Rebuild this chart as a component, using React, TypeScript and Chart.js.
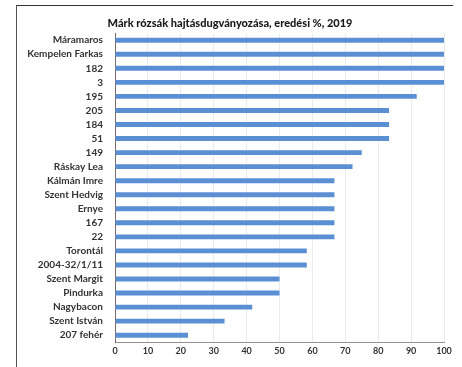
import React, { useEffect, useRef } from "react";
import { Chart, registerables } from "chart.js";

Chart.register(...registerables);

const categories = [
  "Máramaros",
  "Kempelen Farkas",
  "182",
  "3",
  "195",
  "205",
  "184",
  "51",
  "149",
  "Ráskay Lea",
  "Kálmán Imre",
  "Szent Hedvig",
  "Ernye",
  "167",
  "22",
  "Torontál",
  "2004-32/1/11",
  "Szent Margit",
  "Pindurka",
  "Nagybacon",
  "Szent István",
  "207 fehér",
];

const values = [
  100, 100, 100, 100, 91.7, 83.3, 83.3, 83.3, 75, 72.2, 66.7, 66.7, 66.7, 66.7,
  66.7, 58.3, 58.3, 50, 50, 41.7, 33.3, 22.2,
];

const xTicks = [0, 10, 20, 30, 40, 50, 60, 70, 80, 90, 100];

const title = "Márk rózsák hajtásdugványozása, eredési %, 2019";

export default function App() {
  const ref = useRef<HTMLCanvasElement | null>(null);

  useEffect(() => {
    if (!ref.current) return;
    const chart = new Chart(ref.current, {
      type: "bar",
      data: {
        labels: categories,
        datasets: [
          {
            data: values,
            backgroundColor: "#5b8fd3",
            borderWidth: 0,
            barPercentage: 0.7,
            categoryPercentage: 0.5,
          },
        ],
      },
      options: {
        indexAxis: "y",
        animation: false,
        responsive: false,
        maintainAspectRatio: false,
        layout: { padding: { left: 16, right: 18, top: 17, bottom: 8 } },
        plugins: {
          legend: { display: false },
          tooltip: { enabled: false },
          title: {
            display: true,
            text: title,
            color: "#1a1a1a",
            font: { family: "Lato", size: 11, weight: "900" },
            padding: { top: 0, bottom: 3 },
          },
        },
        scales: {
          x: {
            min: 0,
            max: 100,
            afterBuildTicks: (axis: any) => {
              axis.ticks = xTicks.map((v) => ({ value: v }));
            },
            grid: { color: "#ebebeb", drawTicks: false },
            border: { color: "#9a9090", width: 1 },
            ticks: {
              color: "#333",
              padding: 3,
              font: { family: "Lato", size: 9, weight: "bold" },
            },
          },
          y: {
            afterFit: (axis: any) => {
              axis.width = 99;
            },
            grid: { display: false, drawTicks: false },
            border: { color: "#7a6a6a", width: 1 },
            ticks: {
              autoSkip: false,
              color: "#333",
              padding: 12,
              font: { family: "Lato", size: 10, weight: "bold" },
            },
          },
        },
      },
    });
    return () => chart.destroy();
  }, []);

  return (
    <div style={{ position: "absolute", left: 0, top: 0, width: 462, height: 367, background: "#fff" }}>
      <div
        style={{
          position: "absolute",
          left: 16,
          top: 5,
          width: 436,
          height: 362,
          borderTop: "1px solid #333",
          borderLeft: "1px solid #555",
        }}
      />
      <canvas ref={ref} width={462} height={367} style={{ position: "absolute", left: 0, top: 0 }} />
    </div>
  );
}
